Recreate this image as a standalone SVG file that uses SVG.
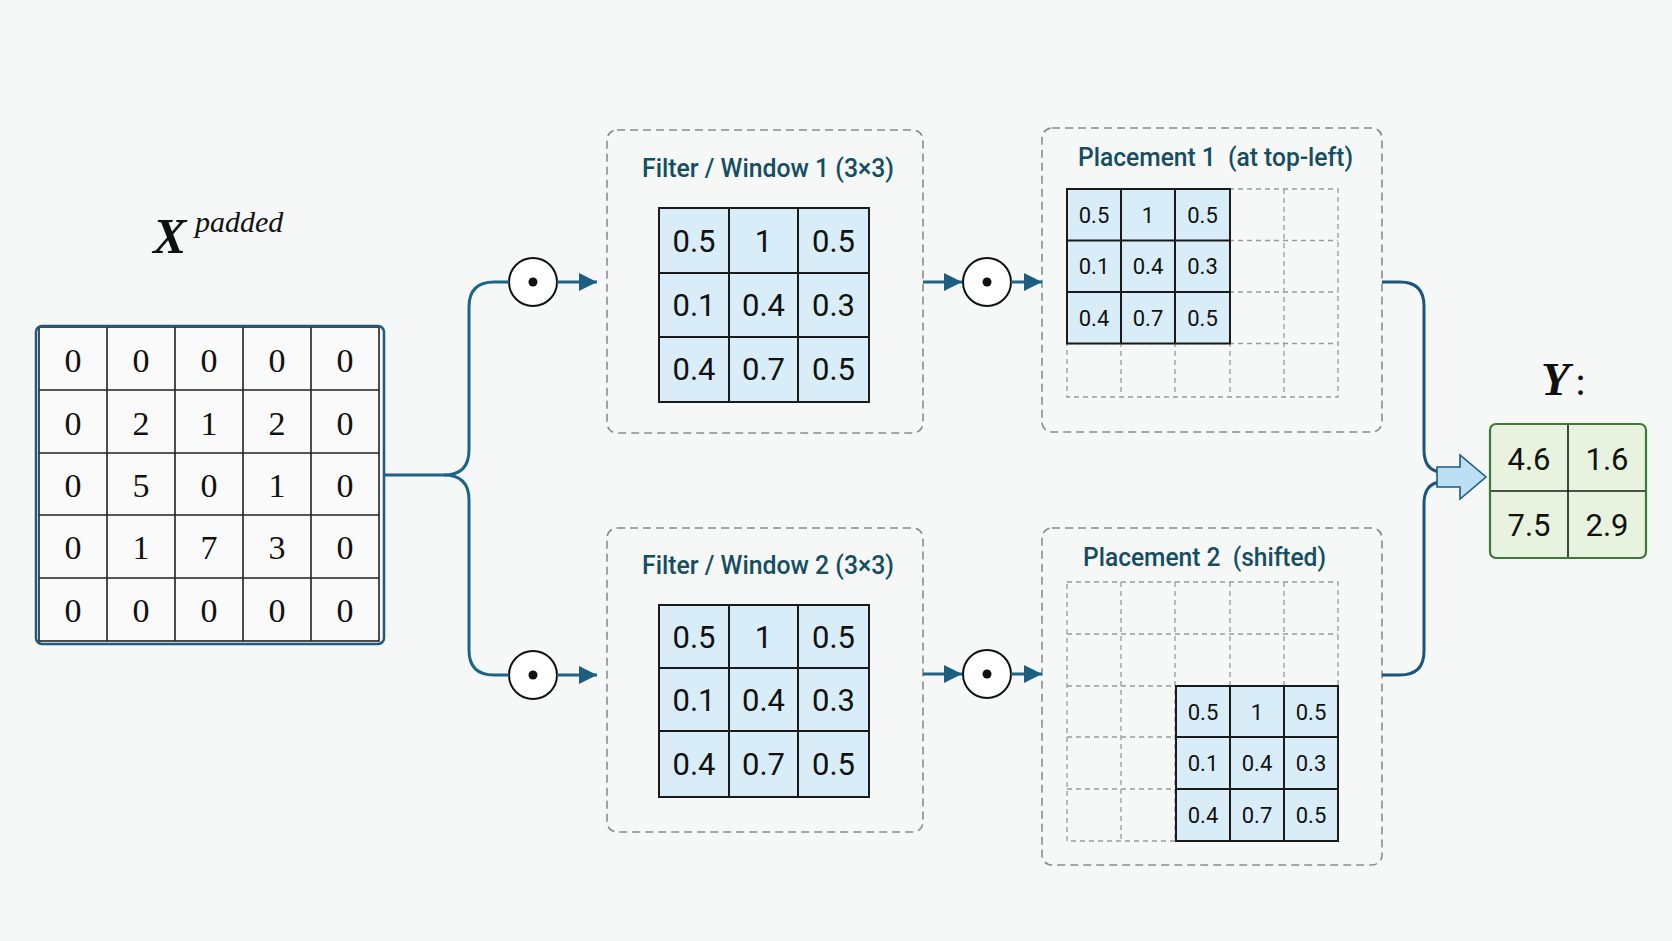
<svg xmlns="http://www.w3.org/2000/svg" width="1672" height="941" viewBox="0 0 1672 941">
<defs>
<style>
.bg{fill:#f6f7f7}
.dbox{fill:none;stroke:#8c8c8c;stroke-width:1.6;stroke-dasharray:8 5}
.title{font-family:Roboto,"Liberation Sans",sans-serif;font-weight:500;font-size:25px;fill:#154e62}
.xc{fill:#fafafa;stroke:#222;stroke-width:1.6}
.xt{font-family:"Liberation Serif",serif;font-size:34px;fill:#111;text-anchor:middle;dominant-baseline:central}
.fc{fill:#d8edf8;stroke:#1a1a1a;stroke-width:2}
.ft{font-family:Roboto,"Liberation Sans",sans-serif;font-size:31px;fill:#111;text-anchor:middle;dominant-baseline:central}
.pt{font-family:Roboto,"Liberation Sans",sans-serif;font-size:22px;fill:#111;text-anchor:middle;dominant-baseline:central}
.yt{font-family:Roboto,"Liberation Sans",sans-serif;font-size:31px;fill:#111;text-anchor:middle;dominant-baseline:central}
.dg{fill:none;stroke:#9a9a9a;stroke-width:1.3;stroke-dasharray:5 4}
.conn{fill:none;stroke:#1c6587;stroke-width:3}
.connr{fill:none;stroke:#1a5680;stroke-width:3}
.op{fill:#fff;stroke:#111;stroke-width:2}
</style>
<marker id="ah" viewBox="0 0 10 10" refX="10" refY="5" markerWidth="18" markerHeight="18" markerUnits="userSpaceOnUse" orient="auto">
<path d="M0,0 L10,5 L0,10 z" fill="#1b5e82"/>
</marker>
</defs>
<rect class="bg" x="0" y="0" width="1672" height="941"/>

<g id="xpadded">
<text x="153" y="253" font-family="Liberation Serif,serif" font-style="italic" font-weight="bold" font-size="50" fill="#111">X</text>
<text x="195" y="232" font-family="Liberation Serif,serif" font-style="italic" font-size="30" fill="#111">padded</text>
<g>
<rect class="xc" x="39" y="327" width="340" height="314"/>
<path d="M107,327V641M175,327V641M243,327V641M311,327V641M39,390H379M39,453H379M39,515H379M39,578H379" stroke="#222" stroke-width="1.6" fill="none"/>
<rect x="36" y="326" width="348" height="318" rx="6" fill="none" stroke="#1f5a80" stroke-width="2.5"/>
</g>
<g>
<text class="xt" x="73" y="360">0</text><text class="xt" x="141" y="360">0</text><text class="xt" x="209" y="360">0</text><text class="xt" x="277" y="360">0</text><text class="xt" x="345" y="360">0</text>
<text class="xt" x="73" y="423">0</text><text class="xt" x="141" y="423">2</text><text class="xt" x="209" y="423">1</text><text class="xt" x="277" y="423">2</text><text class="xt" x="345" y="423">0</text>
<text class="xt" x="73" y="485">0</text><text class="xt" x="141" y="485">5</text><text class="xt" x="209" y="485">0</text><text class="xt" x="277" y="485">1</text><text class="xt" x="345" y="485">0</text>
<text class="xt" x="73" y="547">0</text><text class="xt" x="141" y="547">1</text><text class="xt" x="209" y="547">7</text><text class="xt" x="277" y="547">3</text><text class="xt" x="345" y="547">0</text>
<text class="xt" x="73" y="610">0</text><text class="xt" x="141" y="610">0</text><text class="xt" x="209" y="610">0</text><text class="xt" x="277" y="610">0</text><text class="xt" x="345" y="610">0</text>
</g>
</g>

<g id="filter1">
<rect class="dbox" x="607" y="130" width="316" height="303" rx="10"/>
<text class="title" x="642" y="177" textLength="252" lengthAdjust="spacingAndGlyphs">Filter / Window 1 (3×3)</text>
<rect class="fc" x="659" y="208" width="210" height="194"/>
<path d="M729,208V402M798,208V402M659,273H869M659,337H869" stroke="#1a1a1a" stroke-width="2" fill="none"/>
<text class="ft" x="694" y="241">0.5</text><text class="ft" x="763.5" y="241">1</text><text class="ft" x="833.5" y="241">0.5</text>
<text class="ft" x="694" y="305">0.1</text><text class="ft" x="763.5" y="305">0.4</text><text class="ft" x="833.5" y="305">0.3</text>
<text class="ft" x="694" y="369">0.4</text><text class="ft" x="763.5" y="369">0.7</text><text class="ft" x="833.5" y="369">0.5</text>
</g>

<g id="filter2">
<rect class="dbox" x="607" y="528" width="316" height="304" rx="10"/>
<text class="title" x="642" y="574" textLength="252" lengthAdjust="spacingAndGlyphs">Filter / Window 2 (3×3)</text>
<rect class="fc" x="659" y="605" width="210" height="192"/>
<path d="M729,605V797M798,605V797M659,668H869M659,731H869" stroke="#1a1a1a" stroke-width="2" fill="none"/>
<text class="ft" x="694" y="637">0.5</text><text class="ft" x="763.5" y="637">1</text><text class="ft" x="833.5" y="637">0.5</text>
<text class="ft" x="694" y="700">0.1</text><text class="ft" x="763.5" y="700">0.4</text><text class="ft" x="833.5" y="700">0.3</text>
<text class="ft" x="694" y="764">0.4</text><text class="ft" x="763.5" y="764">0.7</text><text class="ft" x="833.5" y="764">0.5</text>
</g>

<g id="placement1">
<rect class="dbox" x="1042" y="128" width="340" height="304" rx="10"/>
<text class="title" x="1078" y="166" textLength="275" lengthAdjust="spacingAndGlyphs" xml:space="preserve">Placement 1  (at top-left)</text>
<rect class="dg" x="1067" y="189" width="271" height="208"/>
<path class="dg" d="M1121,189V397M1175,189V397M1230,189V397M1284,189V397M1067,240.5H1338M1067,292H1338M1067,343.5H1338"/>
<rect class="fc" x="1067" y="189" width="163" height="154.5"/>
<path d="M1121,189V343.5M1175,189V343.5M1067,240.5H1230M1067,292H1230" stroke="#1a1a1a" stroke-width="2" fill="none"/>
<text class="pt" x="1094" y="215">0.5</text><text class="pt" x="1148" y="215">1</text><text class="pt" x="1202.5" y="215">0.5</text>
<text class="pt" x="1094" y="266">0.1</text><text class="pt" x="1148" y="266">0.4</text><text class="pt" x="1202.5" y="266">0.3</text>
<text class="pt" x="1094" y="318">0.4</text><text class="pt" x="1148" y="318">0.7</text><text class="pt" x="1202.5" y="318">0.5</text>
</g>

<g id="placement2">
<rect class="dbox" x="1042" y="528" width="340" height="337" rx="10"/>
<text class="title" x="1083" y="566" textLength="243" lengthAdjust="spacingAndGlyphs" xml:space="preserve">Placement 2  (shifted)</text>
<rect class="dg" x="1067" y="582" width="271" height="259"/>
<path class="dg" d="M1121,582V841M1175,582V841M1230,582V841M1284,582V841M1067,634H1338M1067,686H1338M1067,737H1338M1067,789H1338"/>
<rect class="fc" x="1176" y="686" width="162" height="155"/>
<path d="M1230,686V841M1284,686V841M1176,737H1338M1176,789H1338" stroke="#1a1a1a" stroke-width="2" fill="none"/>
<text class="pt" x="1203" y="712">0.5</text><text class="pt" x="1257" y="712">1</text><text class="pt" x="1311" y="712">0.5</text>
<text class="pt" x="1203" y="763">0.1</text><text class="pt" x="1257" y="763">0.4</text><text class="pt" x="1311" y="763">0.3</text>
<text class="pt" x="1203" y="815">0.4</text><text class="pt" x="1257" y="815">0.7</text><text class="pt" x="1311" y="815">0.5</text>
</g>

<g id="output">
<text x="1541" y="395" font-family="Liberation Serif,serif" font-style="italic" font-weight="bold" font-size="47" fill="#111">Y</text>
<text x="1575" y="395" font-family="Liberation Serif,serif" font-size="40" fill="#111">:</text>
<rect x="1490" y="424" width="156" height="134" rx="6" fill="#e7f3de" stroke="#3b7a35" stroke-width="2.2"/>
<path d="M1568,425V557M1491,491H1645" stroke="#1a1a1a" stroke-width="1.6" fill="none"/>
<text class="yt" x="1529" y="459">4.6</text><text class="yt" x="1607" y="459">1.6</text>
<text class="yt" x="1529" y="525">7.5</text><text class="yt" x="1607" y="525">2.9</text>
</g>

<g id="ops">
<circle class="op" cx="533" cy="282" r="24"/><circle cx="533" cy="282" r="4.5" fill="#111"/>
<circle class="op" cx="533" cy="675" r="24"/><circle cx="533" cy="675" r="4.5" fill="#111"/>
<circle class="op" cx="987" cy="282" r="24"/><circle cx="987" cy="282" r="4.5" fill="#111"/>
<circle class="op" cx="987" cy="674" r="24"/><circle cx="987" cy="674" r="4.5" fill="#111"/>
</g>

<g id="connectors">
<path class="conn" d="M384,475 H444 Q469,475 469,450 V307 Q469,282 494,282 H509"/>
<path class="conn" d="M444,475 Q469,475 469,500 V650 Q469,675 494,675 H509"/>
<path class="conn" d="M557,282 H597" marker-end="url(#ah)"/>
<path class="conn" d="M557,675 H597" marker-end="url(#ah)"/>
<path class="conn" d="M923,282 H962" marker-end="url(#ah)"/>
<path class="conn" d="M923,674 H962" marker-end="url(#ah)"/>
<path class="conn" d="M1011,282 H1042" marker-end="url(#ah)"/>
<path class="conn" d="M1011,674 H1042" marker-end="url(#ah)"/>
<path class="connr" d="M1382,282 H1400 Q1424,282 1424,306 V450 Q1424,470 1440,472"/>
<path class="connr" d="M1382,675 H1400 Q1424,675 1424,651 V504 Q1424,484 1440,482"/>
<polygon points="1437,467 1460,467 1460,455 1486,477 1460,499 1460,487 1437,487" fill="#bddff4" stroke="#1f5a80" stroke-width="1.6" stroke-linejoin="miter"/>
</g>
</svg>
